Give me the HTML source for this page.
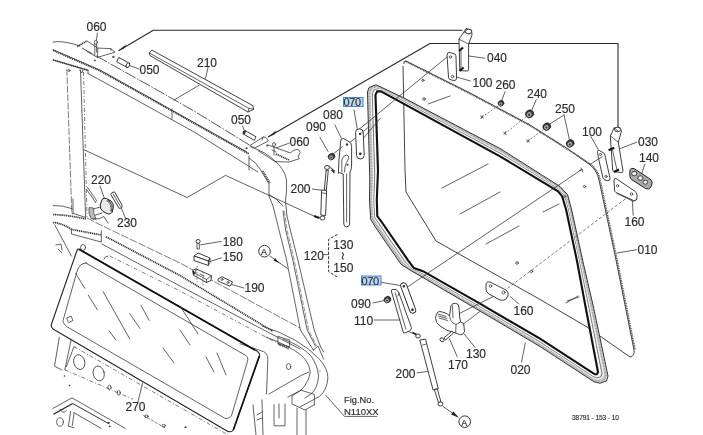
<!DOCTYPE html>
<html><head><meta charset="utf-8">
<style>
html,body{margin:0;padding:0;background:#fff;}
body{width:703px;height:435px;overflow:hidden;}
svg{display:block;}
.l{fill:none;stroke:#3a3a3a;stroke-width:0.8;stroke-linejoin:round;stroke-linecap:round;}
.m{fill:none;stroke:#2a2a2a;stroke-width:1.1;stroke-linejoin:round;stroke-linecap:round;}
.k{fill:none;stroke:#111;stroke-width:1.8;stroke-linejoin:round;stroke-linecap:round;}
.d{fill:none;stroke:#444;stroke-width:0.7;stroke-dasharray:4 2 1 2;}
.h{fill:none;stroke:#666;stroke-width:0.7;}
.hh{fill:none;stroke:#333;stroke-width:1.7;stroke-dasharray:1.2 0.7;}
.ld{fill:none;stroke:#444;stroke-width:0.7;}
.w{fill:#fff;stroke:#2a2a2a;stroke-width:0.9;stroke-linejoin:round;}
text{font-family:"Liberation Sans",sans-serif;font-size:12px;fill:#2a2a2a;stroke:#2a2a2a;stroke-width:0.15;filter:url(#gs);}
.s{font-size:8px;}
</style></head><body>
<svg width="703" height="435" viewBox="0 0 703 435">
<defs><filter id="gs" x="-5%" y="-5%" width="110%" height="110%"><feColorMatrix type="saturate" values="0"/></filter></defs>
<rect width="703" height="435" fill="#fff"/>

<!-- ========== RIGHT: glass 010 ========== -->
<g id="glass">
<path fill="none" stroke="#3a3a3a" stroke-width="0.95" stroke-linejoin="round" d="M404,64 Q403,61 406,61 L470,93 L530,125 L568,149 L589,164 Q597,170 599,180 L616,260 L634,350 Q635,356 630,357 L587,327 L541,300 L475,263 L436,241 L406,192 L405,170 L403,66"/>
<path d="M405,61 L470,93.5 L530,125.5 L568,149.5 L590,164 Q598,170 600,180 L617,260 L635,350" fill="none" stroke="#555" stroke-width="1.8" stroke-dasharray="1 0.7"/>
<!-- reflections -->
<path class="l" d="M442,188 L488,164 M460,214 L500,192 M486,244 L519,226 M543,212 L559,204 M567,301 L579,297 M566,303 L578,296"/>
</g>

<!-- ========== seal 020 ========== -->
<g id="seal">
<path fill-rule="evenodd" fill="#dcdcdc" d="M369.8,180.0 L367.5,92.0 L369.0,87.5 L376.0,84.8 L403.0,97.5 L500.0,148.5 L560.0,186.5 L567.6,194.8 L571.7,210.0 L583.0,262.0 L593.0,305.0 L608.0,376.0 L606.5,381.0 L600.0,383.2 L594.0,381.8 L540.0,346.5 L480.0,311.0 L423.0,277.6 L410.0,270.0 L401.0,264.3 L375.7,227.5 L370.7,219.4 L369.5,200.0 Z M378.3,170.0 L375.7,95.0 L377.5,91.5 L381.0,91.5 L403.0,103.5 L500.0,156.5 L558.0,191.5 L562.0,196.4 L566.0,210.0 L577.0,262.0 L585.0,305.0 L597.7,372.0 L596.5,374.0 L594.5,373.8 L593.0,372.8 L540.0,338.5 L480.0,303.5 L423.0,271.0 L414.0,268.0 L407.9,259.7 L382.6,222.9 L377.5,216.0 L377.0,200.0 Z"/>
<path d="M371.7,177.8 L369.3,92.7 L370.9,88.4 L377.1,86.3 L403.0,98.8 L500.0,150.3 L559.6,187.6 L566.4,195.2 L570.4,210.0 L581.7,262.0 L591.2,305.0 L605.7,375.1 L604.3,379.5 L598.8,381.1 L593.8,379.8 L540.0,344.7 L480.0,309.4 L423.0,276.1 L410.9,269.6 L402.5,263.3 L377.2,226.5 L372.2,218.7 L371.1,200.0 Z" fill="none" stroke="#9a9a9a" stroke-width="2.2" stroke-dasharray="0.8 0.7"/>
<path d="M373.6,175.5 L371.2,93.3 L372.8,89.3 L378.2,87.8 L403.0,100.2 L500.0,152.1 L559.1,188.8 L565.1,195.5 L569.1,210.0 L580.3,262.0 L589.4,305.0 L603.4,374.2 L602.0,377.9 L597.5,379.0 L593.5,377.8 L540.0,342.9 L480.0,307.6 L423.0,274.6 L411.8,269.1 L404.1,262.2 L378.8,225.4 L373.8,217.9 L372.9,200.0 Z" fill="none" stroke="#f4f4f4" stroke-width="1.0"/>
<path d="M374.7,174.2 L372.3,93.7 L373.9,89.8 L378.9,88.7 L403.0,101.0 L500.0,153.1 L558.8,189.4 L564.4,195.7 L568.4,210.0 L579.5,262.0 L588.4,305.0 L602.0,373.7 L600.7,376.9 L596.8,377.7 L593.4,376.6 L540.0,341.9 L480.0,306.6 L423.0,273.8 L412.3,268.8 L405.0,261.6 L379.7,224.8 L374.6,217.4 L373.9,200.0 Z" fill="none" stroke="#555" stroke-width="0.7"/>
<path d="M376.2,172.5 L373.6,94.2 L375.4,90.5 L379.8,89.8 L403.0,102.0 L500.0,154.5 L558.5,190.2 L563.4,196.0 L567.4,210.0 L578.5,262.0 L587.0,305.0 L600.3,373.0 L599.0,375.8 L595.9,376.1 L593.2,375.1 L540.0,340.5 L480.0,305.4 L423.0,272.6 L413.0,268.5 L406.2,260.9 L380.9,224.1 L375.8,216.8 L375.1,200.0 Z" fill="none" stroke="#fff" stroke-width="1.3"/>
<path d="M369.8,180.0 L367.5,92.0 L369.0,87.5 L376.0,84.8 L403.0,97.5 L500.0,148.5 L560.0,186.5 L567.6,194.8 L571.7,210.0 L583.0,262.0 L593.0,305.0 L608.0,376.0 L606.5,381.0 L600.0,383.2 L594.0,381.8 L540.0,346.5 L480.0,311.0 L423.0,277.6 L410.0,270.0 L401.0,264.3 L375.7,227.5 L370.7,219.4 L369.5,200.0 Z" fill="none" stroke="#333" stroke-width="1"/>
<path d="M378.0,170.3 L375.5,94.9 L377.2,91.4 L380.9,91.3 L403.0,103.3 L500.0,156.3 L558.1,191.3 L562.2,196.4 L566.2,210.0 L577.2,262.0 L585.2,305.0 L598.0,372.1 L596.8,374.2 L594.7,374.1 L593.0,373.1 L540.0,338.7 L480.0,303.7 L423.0,271.2 L413.9,268.1 L407.7,259.8 L382.4,223.0 L377.3,216.1 L376.8,200.0 Z" fill="none" stroke="#111" stroke-width="2.1"/>
</g>


<!-- ========== LEFT: roof beam ========== -->
<g id="roof">
<path class="l" d="M53,42 Q62,40 80,46"/>
<path fill="none" stroke="#444" stroke-width="0.9" stroke-dasharray="12 1.5 1.5 1.5" d="M82,48 L100,58 L150,86 L195,111.6 L251,146"/>
<path class="l" d="M53,49.6 L100,70 L150,97.8 L195,123 L247,152"/>
<path class="hh" d="M53,50.3 L100,70.8 L150,98.6 L195,123.8 L249,154"/>
<path class="hh" d="M53,59.9 L88,70.3"/>
<path class="l" d="M53,59.9 L88,70.3"/>
<path class="l" d="M88,73.5 L140,102 L150,107.6 L195,132.5 L258,172"/>
<path class="l" d="M88,70 L88,73.5"/>
<path class="l" d="M172,109 L172,119 M249,156 L249,170"/>
<!-- curve into A pillar -->
<path class="l" d="M251,147 Q266,152 275,161 Q284.5,169 286.5,180 L286.5,191 L285.5,201 L287,216 L290.3,230 L297.9,260 L314.2,330 L320.6,346.9"/>
<path class="l" d="M249,158 Q256,162 260,169 L269,184 L269,196 L273,206 L279,230 L286.6,260 L300.4,330 L313.4,350"/>
<path class="hh" d="M262.7,171 L270,183"/>
<path class="l" d="M269,194.4 Q276,198 283,205.8"/>
<path class="l" d="M283,210.9 L285.6,230 L292.8,260 L307.2,330 L315.4,346"/>
<path class="h" stroke-dasharray="5 1.5" d="M284.4,210.9 L287,230 L294.2,260 L308.6,330 L316.6,346"/>
<!-- left front post -->
<path class="ld" stroke-dasharray="7 1.5" d="M66.8,68.7 L71.8,213"/>
<path class="l" d="M80.5,70 L85.6,217.4 M71.8,213 L85.6,217.4 M79.5,70 L81.8,73 L83,70"/>
<path class="d" d="M83.5,72 L87,217"/>
<circle cx="69" cy="70.5" r="1" class="l"/>
<path class="l" d="M73,199 L73,214"/>
<!-- roof bracket left -->
<path class="hh" d="M77.2,46.5 L87,40.9"/>
<path class="l" d="M87,40.9 L97.9,48.1 L110.8,48.6 L115,52.2 L97.4,57.4 L87,51.5 M97.9,48.1 L97.4,57.4 M110.8,48.6 L111,50.5"/>
<path class="l" d="M94.8,44 L94.8,54.3 M96.6,44 L96.6,52"/>
<ellipse cx="95.8" cy="42.3" rx="1.5" ry="2" class="l"/>
<path class="l" d="M97.4,33.1 L96.4,40.3"/>
<circle cx="113.4" cy="56.9" r="1.2" fill="#555"/>
<circle cx="95" cy="60.5" r="0.9" fill="#555"/>
<!-- pin 050 left -->
<path class="w" d="M118.6,57.4 L128.8,62.9 L127,67.4 L116.8,61.9 Z"/>
<ellipse cx="127.9" cy="65.2" rx="1.6" ry="2.4" class="w" transform="rotate(25 127.9 65.2)"/>
<path class="l" d="M129.5,65.5 L139,69"/>
<!-- pin 050 right -->
<path class="w" d="M245,130.5 L256,136.8 L254.3,140.3 L243.3,134 Z"/>
<ellipse cx="244.2" cy="132.3" rx="1.5" ry="2.2" fill="#333" transform="rotate(30 244.2 132.3)"/>
<path class="l" d="M242.5,126 L244.2,130"/>
<!-- bracket right -->
<path class="l" d="M250,145.5 L263.2,137 L266,137.4 L268.3,141 L255.1,147.8 Z M263.2,137 L262,140"/>
<circle cx="246.5" cy="148.3" r="1.1" fill="#444"/>
<circle cx="267.2" cy="145.5" r="1" fill="#444"/>
<path class="l" d="M258,150.6 L275.2,161.6 M268,145 L290.2,152.9 Q296,148 298.8,150 Q301.5,152 299,155 Q297,157 299.4,158.7 L289,162 L275.2,161.6"/>
<path class="hh" d="M276,154 L289,160"/>
<!-- 060 pin right -->
<ellipse cx="274" cy="144.5" rx="1.5" ry="2" class="l"/>
<path class="l" d="M274,146.5 L274,155.2 M272,150 L276,152 M276.4,147.8 L289,143.2"/>
<!-- bar 210 -->
<path class="w" d="M149.2,52.9 L152,50.2 L252.8,105.6 L253.7,109.3 L248,112 L150.2,55.7 Z"/>
<path class="l" d="M149.2,52.9 L249,108.4 L253.7,109.3 M249,108.4 L248,112"/>
<path class="l" d="M208,67.5 L205.5,78.5"/>
<!-- rear window -->
<path class="l" d="M83.9,149.7 L187,197.5 L225.6,175.4 L316,217"/>
<path class="l" d="M199,85.3 L174,100"/>
</g>

<!-- ========== 220 / 230 ========== -->
<g>
<path class="l" d="M86.6,189.5 L95.5,202.3 M87.5,187.5 L96.5,200.5 L95.5,202.3"/>
<path d="M102,199.5 Q104,197.5 106.5,198.6 L111,201 Q114,203 113.2,208 L112.3,212 Q111,214.5 108,214 L103,211.5 Q100,209.5 100.2,205 Z" fill="#e8e8e8" stroke="#222" stroke-width="1"/>
<path d="M107,200 Q112.5,203 111.5,212" stroke="#333" stroke-width="2.4" stroke-dasharray="0.7 0.5" fill="none"/>
<path class="l" d="M100.6,207 L92.4,209.2 M102,213 L95,215.2"/>
<path d="M89,207.5 Q88,213 91,218.5 L96,219 Q93,213 93.5,208 Z" fill="#bbb" stroke="#333" stroke-width="0.7"/>
<path class="l" d="M93,219.3 Q100,219.5 104,216.5 L108,223"/>
<path class="w" d="M110.8,194.5 Q111.3,191.8 114.5,191.9 L122,205 Q123,207.8 120.3,208.3 L119,208.2 Z"/>
<path class="l" d="M113.2,194 L120.5,206.5"/>
<path class="l" d="M100.1,186.2 L104.3,198.1 M121.3,208 L125.5,218.3"/>
</g>

<!-- ========== cowl ========== -->
<g id="cowl">
<path class="l" d="M53,205.5 Q62,205 72,208.6"/>
<path class="hh" d="M53,214.5 Q68,215 86,219"/>
<path class="hh" d="M53,222.5 Q62,223 71.4,229.4"/>
<path class="ld" stroke-dasharray="8 1.5" d="M87,218 L100,224.7 L180,263 L300,328"/>
<path class="hh" d="M71.4,229.4 L101.3,235 M106,236.7 L180,275.5 L273,331.4"/>
<path class="l" d="M71.4,229.4 L71.4,234 L101.3,242 L101.3,231"/>
<path class="l" d="M102,244 L180,286 L300,349"/>
<path class="d" d="M109.7,256 L180,291 L290,350"/>
<path class="l" d="M104,259 Q105,256 108,256"/>
<path class="l" d="M54.8,225 L71.4,256 M58,249 L62,253 M56,245 L61,244 L62,250"/>
</g>


<!-- ========== pillar base / cowl right end ========== -->
<g id="pbase">
<path class="l" d="M262,326 Q300,338 319.6,359.3 Q328,369 327.9,378 Q327,390 319.6,396.4 L300,407"/>
<path class="l" d="M266,337 Q290,346 301,355.1 Q309,362 310.3,371.7 Q309,382 301,390.2 L288,397"/>
<path class="l" d="M283,339 Q302,346 311,356 Q318,366 318.5,376 Q318,388 311,394 L305,398"/>
<path class="l" d="M313.4,350 L318,346 L323.7,359.3 M320.6,346.9 L323.7,352"/>
<path class="l" d="M240,343.8 L263.8,351.7 Q268,354 267.8,359.7 L266.5,394 M269,394 L300.8,375.6 L309,372"/>
<path class="l" d="M278.3,336.5 L289.6,340 L289.6,346.9 L278.3,343.4 Z"/>
<path class="hh" d="M278.5,344.5 L289.5,348"/>
<ellipse cx="288.6" cy="366.5" rx="2.2" ry="3" class="l"/>
<circle cx="320" cy="371" r="0.6" fill="#333"/>
<path class="l" d="M301,390.2 L314.4,394.4 L314.4,404.7 M301,390.2 L292,396 L292,404 L305,410 L314.4,404.7"/>
<path class="l" d="M253,405 L256,435 M262,400 L263,435 M274,404.7 L274,425.8 L285,425.8 L285,404 M279,404 L279,418 M297,408 L297,435 M306,410 L306,435"/>
<path class="l" d="M257,415 L262,412 M257,420 L262,418"/>
</g>

<!-- ========== bottom-left ledge ========== -->
<g>
<path class="l" d="M52.8,408.5 L72,397.8 L125.3,428.4"/>
<path d="M53.5,414.2 L72.7,403.5" stroke="#222" stroke-width="1.3" fill="none"/>
<path d="M72.7,403.5 L108.3,423.4" stroke="#333" stroke-width="1" fill="none"/>
<path class="l" d="M60,409 Q62.5,415 66.5,410.5"/>
<ellipse cx="60" cy="422" rx="3.3" ry="4.2" class="l"/>
<path class="l" d="M70.6,411.3 L68.4,426.3 L74.1,427.7 M74.1,412.8 L72.3,425.5 M74.1,412.8 L101.2,428.4"/>
<circle cx="108.6" cy="422.8" r="1.1" fill="#333"/>
<circle cx="109.8" cy="426.3" r="0.9" fill="#333"/>
<path class="ld" stroke-dasharray="3 1.5" d="M143.3,415.4 L165.2,427.9"/>
<ellipse cx="146.4" cy="416.3" rx="1.8" ry="1.3" class="l"/>
<ellipse cx="163.6" cy="425.7" rx="1.8" ry="1.3" class="l"/>
<circle cx="185.5" cy="427.3" r="1" fill="#333"/>
</g>

<!-- ========== dashboard glass 270 ========== -->
<g id="p270">
<path d="M79,249.2 L255,350 Q261,353 259.3,357 L233.3,430 Q231,433 227,431 L56,330.8 Q50,328 51.5,324 L76.8,251 Q77.5,248.5 79,249.2 Z" fill="none" stroke="#222" stroke-width="1.1"/>
<path d="M79,249.2 L255,350" stroke="#111" stroke-width="1.8" fill="none"/>
<path d="M259.3,356 L233.3,430" stroke="#111" stroke-width="1.6" fill="none"/>
<path class="l" d="M86,263 L245,355 Q249,357 247.3,362 L231.7,415 Q230,419 225,418.3 L70,328.5 Q63,325 63,320.5 L76.8,272.2 Q79,263 86,263 Z"/>
<path class="l" d="M67,318 L71,316 L73,320.5 L69,322.5 Z"/>
<path class="l" d="M75.6,273.3 L84.8,288.3 M88.3,295.2 L97.5,310 M103.2,291.7 L129.7,338.9 M129.7,313.6 L140,328.5 M141.1,305.5 L149.2,320.5 M109,330.8 L115.9,340 M180,306 L198,334 M180,330 L190,345 M217,353 L226,375 M206,357 L214,372 M163,348 L174,363"/>
</g>

<!-- ========== dash panel ========== -->
<ellipse cx="83" cy="247.5" rx="2.5" ry="3" class="l"/>
<g>
<path class="l" d="M59.3,337.2 L54.5,366.2 L62,370"/>
<path class="l" d="M71,340.3 L64.8,369.8 M74,346.6 L66.4,366.7"/>
<path class="d" d="M74,346.6 L170,401.6 L230,436"/>
<path class="d" d="M64.8,369.8 L133,399.3"/>
<ellipse cx="79.3" cy="362.1" rx="5.5" ry="7.5" class="l" transform="rotate(-15 79.3 362.1)"/>
<ellipse cx="98.7" cy="373.4" rx="5.5" ry="7.5" class="l" transform="rotate(-15 98.7 373.4)"/>
<ellipse cx="109.5" cy="387.4" rx="1.6" ry="2.3" class="l"/>
<ellipse cx="118.7" cy="392.8" rx="1.6" ry="2.3" class="l"/>
<path class="l" d="M137.8,402.4 L142.6,383.1"/>
<circle cx="64.5" cy="376" r="0.8" fill="#333"/>
<circle cx="69.5" cy="385.5" r="0.8" fill="#333"/>
</g>

<!-- ========== leader lines top ========== -->
<path class="m" d="M119,50.5 L153.3,30.3 L462,30.3"/>
<path d="M118.6,50.6 L126,44.5 L124,48.5 Z" fill="#222"/>
<path class="m" d="M268.5,136.8 L430,43.5 L618,43.5 L618,127"/>
<path d="M268.5,136.8 L276,130.5 L274.5,134.5 Z" fill="#222"/>


<!-- ========== hinge 040 + plate 100 top ========== -->
<g id="h040">
<path class="w" d="M459,39.2 L464,32 L466,28.5 L471.5,30 L472,35 L468.6,44 L468.6,69.8 Q468.6,71 467,71 L460,70.6 Q459.8,70 459.8,69.8 Z"/>
<path class="l" d="M464,32 L469,34 M459,39.2 L468.6,44"/>
<ellipse cx="468.5" cy="31.5" rx="3" ry="2.3" class="w"/>
<path d="M459,51 L463,47.5 M459.5,71 L463.5,67.5" stroke="#111" stroke-width="2.2"/>
<path class="l" d="M461,49.5 L461,69"/>
<path class="w" d="M447,55 Q447,52 450,52.5 L455,54 Q456,55 456,57 L456.6,78 Q456.6,81 453.5,80.5 L450,79.5 Q448.5,79 448.5,77 Z"/>
<circle cx="450.5" cy="57" r="1.2" class="l"/>
<circle cx="452.5" cy="76.5" r="1.2" class="l"/>
<path class="l" d="M468.6,56 L484.8,58.2 M456.6,77 L470.3,81"/>
</g>
<!-- line 070 upper -> 100 top -->
<path class="l" d="M357,131 L447,57"/>

<!-- ========== nuts 260/240/250 ========== -->
<g id="nuts">
<g transform="translate(501.0 103.3) rotate(-35)"><ellipse rx="3.0" ry="2.7" fill="#3a3a3a" stroke="#111" stroke-width="0.6"/><ellipse cx="-0.8" cy="0.4" rx="1.8" ry="1.7" fill="#aaa"/><ellipse cx="-0.9" cy="0.5" rx="0.8" ry="0.8" fill="#333"/></g>
<g transform="translate(529.6 113.8) rotate(-35)"><ellipse rx="4.2" ry="3.8" fill="#3a3a3a" stroke="#111" stroke-width="0.6"/><ellipse cx="-0.8" cy="0.4" rx="2.5" ry="2.3" fill="#aaa"/><ellipse cx="-0.9" cy="0.5" rx="1.1" ry="1.1" fill="#333"/></g>
<g transform="translate(546.8 126.6) rotate(-35)"><ellipse rx="4.0" ry="3.6" fill="#3a3a3a" stroke="#111" stroke-width="0.6"/><ellipse cx="-0.8" cy="0.4" rx="2.4" ry="2.2" fill="#aaa"/><ellipse cx="-0.9" cy="0.5" rx="1.0" ry="1.0" fill="#333"/></g>
<g transform="translate(570.2 143.4) rotate(-35)"><ellipse rx="4.0" ry="3.6" fill="#3a3a3a" stroke="#111" stroke-width="0.6"/><ellipse cx="-0.8" cy="0.4" rx="2.4" ry="2.2" fill="#aaa"/><ellipse cx="-0.9" cy="0.5" rx="1.0" ry="1.0" fill="#333"/></g>
<path class="l" d="M505,91.7 L501.7,100.8 M536.3,99.5 L531.7,110.5 M564,115 L549,124.5 M564,115 L569.6,140.3"/>
<path class="ld" stroke-dasharray="2 1.5" d="M482,117 L499.5,105 M505,133.5 L527,116 M528,141 L544.6,128.6"/>
<path class="l" d="M480.5,116 L483.5,118 M481,118.5 L483,115.5 M503.5,132 L506.5,135 M504,134.5 L506,131.5 M526.5,140 L529.5,142 M527,142.5 L529,139.5"/>
</g>

<!-- ========== hinge 030 + plate 100 right + 140 + 160 ========== -->
<g id="h030">
<path class="w" d="M610.3,135.8 L614,128 L620,127.5 L621.5,131 L618.3,142.2 L623,171.2 Q623,173 620.5,172.5 L614,171.5 Q612.7,171.2 612.7,170 Z"/>
<ellipse cx="617.5" cy="129.5" rx="3" ry="2.3" class="w"/>
<path class="l" d="M614,128 L618,131 M610.3,135.8 L618.3,142.2"/>
<path d="M608.6,150.3 L614.3,147.8 M614,172 L619,169.6" stroke="#111" stroke-width="2.2"/>
<path class="l" d="M612.5,150 L617,170"/>
<path class="w" d="M597.5,151.5 Q597.5,149.5 599.5,150.5 L604.5,153.5 L610,178 Q610.5,181 607,180.5 L605,180 Q603.5,179.5 603,178 L598.3,157.4 Z"/>
<circle cx="600.5" cy="154.5" r="1.1" class="l"/>
<circle cx="606" cy="176.5" r="1.1" class="l"/>
<path class="l" d="M591,136.6 L598.2,149.5 M620,148.6 L636.8,142.2 M644.9,164 L641.7,173.6"/>
<!-- 140 -->
<path d="M630,170 Q630.5,167.5 634,168.5 L650,179 Q654,182 650.5,187.5 Q649,190 645.5,188.5 L631.5,179.5 Q629,177.5 630,170 Z" fill="#aaa" stroke="#222" stroke-width="1"/>
<ellipse cx="634.3" cy="173.6" rx="2.6" ry="2.2" fill="#eee" stroke="#222" stroke-width="0.8"/>
<ellipse cx="640.4" cy="178" rx="2.6" ry="2.2" fill="#eee" stroke="#222" stroke-width="0.8"/>
<ellipse cx="645.3" cy="182.2" rx="2.3" ry="2" fill="#eee" stroke="#222" stroke-width="0.8"/>
<!-- 160 right -->
<path class="w" d="M614,181 Q613.5,178 616,178.5 L634.5,191 Q637,192.5 637,195 L636.9,199 Q636,201 633.5,200.5 L616,192.5 Q614.5,191.5 614.5,190 Z"/>
<path class="l" d="M617,193.5 L633.5,201.5 L636.9,199"/>
<circle cx="617.6" cy="185.8" r="1.2" class="l"/>
<circle cx="631.4" cy="194.1" r="1.3" class="l"/>
<path class="l" d="M632.3,201 L633.2,215.3"/>
<text x="624.5" y="225.7">160</text>
<path class="l" d="M617,253 L636.6,249.7"/>
<text x="637.5" y="254.3">010</text>
</g>

<!-- lines through glass -->
<path class="l" d="M403.9,289.4 L581,170"/>
<path class="l" d="M581,168 L583,172 M579.5,170.5 L582.5,169.5"/>
<path class="l" d="M589.3,164.8 L602.2,156.7"/>
<path class="l" d="M359,143.5 L380,118.5"/>
<path class="l" d="M451.7,317.3 L503.5,291.4"/>
<path class="ld" stroke-dasharray="3 2" d="M503.5,291.4 L626.8,197.8"/>
<circle cx="531.5" cy="271.5" r="1.2" class="l"/>
<circle cx="517" cy="263" r="1.3" class="l"/>
<circle cx="564.5" cy="196.5" r="1.1" class="l"/>
<circle cx="584.5" cy="186.5" r="1.1" class="l"/>
<circle cx="423" cy="80.3" r="1.1" class="l"/>
<circle cx="424" cy="99" r="1.3" class="l"/>
<path class="l" d="M428,104 L450,96"/>

<!-- ========== 160 lower plate ========== -->
<g>
<path class="w" d="M486,285 Q486,281 490,282 L506,290 Q509,292 508,296 L506,299 Q504,301 500,300 L489,294 Q486,292 486,289 Z"/>
<circle cx="490.5" cy="286" r="1.3" class="l"/>
<circle cx="503.5" cy="292.5" r="1.5" class="l"/>
<path class="l" d="M510,296.4 L519,304"/>
</g>


<!-- ========== 080 / 090 / 070 upper / strut 200 upper ========== -->
<g id="upper-mid">
<!-- 070 upper plate -->
<g transform="translate(359.9,143.9) rotate(87.5)">
<rect x="-15" y="-3.8" width="30" height="7.6" rx="3.5" class="w"/>
<circle cx="-10" cy="-0.6" r="1.2" fill="#333"/>
<circle cx="10" cy="0" r="1.3" fill="#333"/>
</g>
<path class="l" d="M354,110 L357.3,129"/>
<!-- 080 bracket -->
<path class="w" d="M340.7,141 Q341,138 343.5,138.6 L349.5,141.8 Q351.6,143.5 351.6,146.5 L351.6,165 Q351.5,170 350,172 L349.6,224 Q349.4,226.8 346.7,226.8 Q343.9,226.8 343.8,224 L343.2,174 Q339.5,172 338.4,173.3 L339,159.5 Z"/>
<path class="l" d="M341.8,172 L341.8,160 Q343,155.5 346.4,155 Q349.5,155.5 348.7,158.8 L346.5,162.5 Q344.5,166 344.5,172 M346.6,174 L346.6,222"/>
<circle cx="347" cy="144.5" r="1.2" fill="#333"/>
<circle cx="347.6" cy="164.7" r="1" fill="#333"/>
<path class="l" d="M335,125 L341.3,138.2"/>
<!-- 090 nut upper -->
<g transform="translate(331.5 156.6) rotate(-35)"><ellipse rx="3.5" ry="3.1" fill="#3a3a3a" stroke="#111" stroke-width="0.6"/><ellipse cx="-0.8" cy="0.4" rx="2.1" ry="1.9" fill="#aaa"/><ellipse cx="-0.9" cy="0.5" rx="0.9" ry="0.9" fill="#333"/></g>
<path class="l" d="M320,137.6 L328,151.4"/>
<path class="l" d="M332.6,154.3 L342.4,146.8 M350,142.2 L355,138.5 M361.4,133 L368.3,127.3"/>
<!-- strut 200 upper -->
<path class="w" d="M326.2,170 L328.3,170.3 L326.3,190.5 L324.3,190.3 Z"/>
<path class="w" d="M321.6,190 L326.6,190.6 L325.6,215.5 L320.8,215 Z"/>
<path class="l" d="M322.5,193 L325.8,193.4"/>
<ellipse cx="327" cy="167.5" rx="2.4" ry="2" class="w"/>
<path class="l" d="M329,166 L333,169.5 L334,173 M331,168.5 L335,171"/>
<path d="M331.5,170 L334.5,172.5" stroke="#222" stroke-width="1.6"/>
<ellipse cx="322.5" cy="218" rx="2.5" ry="2" class="w"/>
<path d="M314,216 L319.5,218" stroke="#222" stroke-width="2.2"/>
<path class="l" d="M312.4,189 L321.6,190.2"/>
<text x="290.5" y="193.2">200</text>
</g>

<!-- ========== 120 bracket ========== -->
<g>
<text x="303.8" y="259.8">120</text>
<text x="333.3" y="249">130</text>
<text x="333.3" y="272.3">150</text>
<path fill="none" stroke="#333" stroke-width="1.1" d="M342,252.5 Q344.2,254 342.8,256 Q341.4,258 343.6,259.5"/>
<path fill="none" stroke="#333" stroke-width="1" stroke-dasharray="3 1.5" d="M337.5,234.5 L328.6,239.3 L328.6,271.5 L337.5,277.2"/>
<path class="l" d="M323,254.6 L328.6,254.6"/>
</g>

<!-- ========== lower middle: 070/110/090/200/130/170 ========== -->
<g id="lower-mid">
<!-- 110 -->
<path class="w" d="M391.3,291 Q391.3,289.5 393,289.4 L396.1,289.4 L399,293 L411.4,327.5 Q411.8,330 409.5,330.8 L405,333 Q403.3,333.8 403,331.5 Z"/>
<path class="l" d="M395.3,292.9 L405.8,329 M399,293 L398,296"/>
<path class="l" d="M374,320 L400,320"/>
<!-- 070 lower plate -->
<g transform="translate(408.2,298) rotate(69.7)">
<rect x="-16" y="-3" width="32" height="6" rx="3" class="w"/>
<circle cx="-12.5" cy="0" r="1.3" fill="#333"/>
<circle cx="12.5" cy="0" r="1.4" fill="#333"/>
</g>
<path class="l" d="M381.4,282.4 L400.5,285.5"/>
<!-- 090 nut lower -->
<g transform="translate(387.4 299.6) rotate(-35)"><ellipse rx="3.5" ry="3.1" fill="#3a3a3a" stroke="#111" stroke-width="0.6"/><ellipse cx="-0.8" cy="0.4" rx="2.1" ry="1.9" fill="#aaa"/><ellipse cx="-0.9" cy="0.5" rx="0.9" ry="0.9" fill="#333"/></g>
<path class="l" d="M373,303 L384,300.6"/>
<!-- strut 200 lower -->
<path class="l" d="M408,331.5 L414,333.5"/>
<path d="M412.5,332.5 L417,335" stroke="#222" stroke-width="1.8"/>
<ellipse cx="418" cy="336" rx="2.3" ry="2" class="w"/>
<path class="w" d="M419.8,340 L425.5,339 L438.3,388.7 L433,389.7 Z"/>
<path class="l" d="M422.8,345 L426,344.2"/>
<path class="w" d="M434.3,389.5 L437.3,389 L441,402 L438.5,402.5 Z"/>
<ellipse cx="440.5" cy="404" rx="2.5" ry="2" class="w"/>
<path class="l" d="M443,406.5 L458,417"/>
<path d="M458.5,417.5 L451,414.5 L453.5,411.5 Z" fill="#222"/>
<circle cx="464.7" cy="421.7" r="5.8" fill="none" stroke="#333" stroke-width="1"/>
<text x="461.2" y="425.5" style="font-size:9px">A</text>
<path class="l" d="M417.2,372.8 L427.7,371.5"/>
<text x="395.5" y="378.1">200</text>
<!-- latch 130 -->
<path class="w" d="M435.6,318.6 Q436,312 439.6,311.4 L444,312.5 Q448,313.5 449.5,316 L450.9,306 Q452,302.8 455.7,303.3 Q459.3,304 458.9,307 L459.7,317 L460.5,321.9 L463.7,323.5 L464.5,331.5 Q463.5,334.8 460.5,334.8 L455.7,333.1 Q446,331 440,326 Q435.5,322.5 435.6,318.6 Z"/>
<path class="l" d="M438,314 L446,316.5 M438.5,316 L447,318.5 M439,318 L447.5,320.5 M449.5,316 Q450,321 453,323 L456,324.5 L460.5,321.9 M456,324.5 L455.7,333.1 M452.5,306 L453,318"/>
<!-- bolt 170 -->
<path class="w" d="M444,337.8 L452,331 L453.5,333 L445.5,340 Z"/>
<ellipse cx="442" cy="339.8" rx="1.8" ry="2.2" class="w" transform="rotate(-40 442 339.8)"/>
<path class="l" d="M449.6,339 L457.2,356.7"/>
<text x="448" y="369">170</text>
<path class="l" d="M464.1,333.9 L474.9,347.2"/>
<text x="466" y="358">130</text>
<path class="l" d="M463,324.3 L480,311.4"/>
</g>

<!-- ========== misc texts bottom ========== -->
<text x="344" y="403.2" style="font-size:9.3px">Fig.No.</text>
<text x="344" y="414.6" style="font-size:9.5px">N110XX</text>
<path class="l" d="M325.8,395.4 L344.5,416.4 L377,416.4"/>
<text x="572" y="420" style="font-size:6.6px;letter-spacing:-0.1px">38791 - 153 - 10</text>

<!-- ========== 180/150/190 ========== -->
<g>
<circle cx="198.1" cy="241.4" r="2" class="w"/>
<path class="l" d="M197,243.4 L197,249 L199.3,249 L199.3,243.4"/>
<path class="l" d="M200.7,244.8 L221.4,241.4"/>
<path class="w" d="M194,256 L198,253 L210,258 L208.4,261 Z"/>
<path class="w" d="M194,256 L208.4,261 L208.4,265.5 L194,260.5 Z"/>
<path class="l" d="M208.4,261 L210,258 L210,262.5 L208.4,265.5"/>
<path class="l" d="M208.4,262 L221.4,257.8"/>
<path class="w" d="M192.7,270.4 L196,268.8 L211.5,275.8 L211,280.5 L206.5,282.5 L193.4,275.2 Z"/>
<path class="l" d="M196,268.8 L195.5,273.5 L206.5,279.5 L211.5,275.8 M206.5,279.5 L206.5,282.5 M200,274 L204,276"/>
<path d="M193.3,271 L194.5,274.5" stroke="#222" stroke-width="1.8"/>
<path class="ld" stroke-dasharray="1.5 1.5" d="M197,266 L197,282 M203,272 L203,286"/>
<path class="w" d="M218,279 L222,276.7 L232.6,282 L230,286.2 L218,281 Z"/>
<circle cx="222" cy="279.5" r="1" class="l"/>
<circle cx="228" cy="282.5" r="1" class="l"/>
<path class="l" d="M231.7,284.5 L243.8,288"/>
<text x="222.8" y="245.7">180</text>
<text x="222.8" y="261.2">150</text>
<text x="244.5" y="292">190</text>
<circle cx="264.5" cy="251.2" r="5.8" fill="none" stroke="#333" stroke-width="1"/>
<text x="261" y="255" style="font-size:9px">A</text>
<path class="l" d="M270,256 L287.6,268.7"/>
<path d="M279.5,263.2 L273.5,260.5 L275,258 Z" fill="#222"/>
<text x="91" y="184">220</text>
<text x="117" y="227">230</text>
<text x="125.5" y="411">270</text>
</g>

<!-- ========== text labels ========== -->
<text x="86.5" y="31">060</text>
<text x="139.5" y="74">050</text>
<text x="197" y="67">210</text>
<text x="231" y="124">050</text>
<text x="289.5" y="146">060</text>
<text x="306" y="130.6">090</text>
<text x="323" y="119.3">080</text>
<text x="487" y="61.7">040</text>
<text x="472.5" y="87">100</text>
<text x="495.5" y="89.3">260</text>
<text x="527" y="97.6">240</text>
<text x="555" y="113.3">250</text>
<text x="582" y="135.8">100</text>
<text x="638" y="145.7">030</text>
<text x="639" y="161.9">140</text>
<text x="513.5" y="315">160</text>
<path class="l" d="M525.3,343 L521.5,362.1"/>
<text x="510.5" y="373.5">020</text>
<text x="351" y="307.8">090</text>
<text x="354" y="324.8">110</text>

<rect x="343.5" y="97.5" width="19.5" height="9" fill="#bcd5f2" stroke="#4586d6" stroke-width="1"/>
<text x="343.6" y="106" style="font-size:11px;fill:#1c2c50;letter-spacing:-0.4px">070</text>
<rect x="361.5" y="276" width="19.5" height="9" fill="#bcd5f2" stroke="#4586d6" stroke-width="1"/>
<text x="361.6" y="284.6" style="font-size:11px;fill:#1c2c50;letter-spacing:-0.4px">070</text>
</svg>
</body></html>
